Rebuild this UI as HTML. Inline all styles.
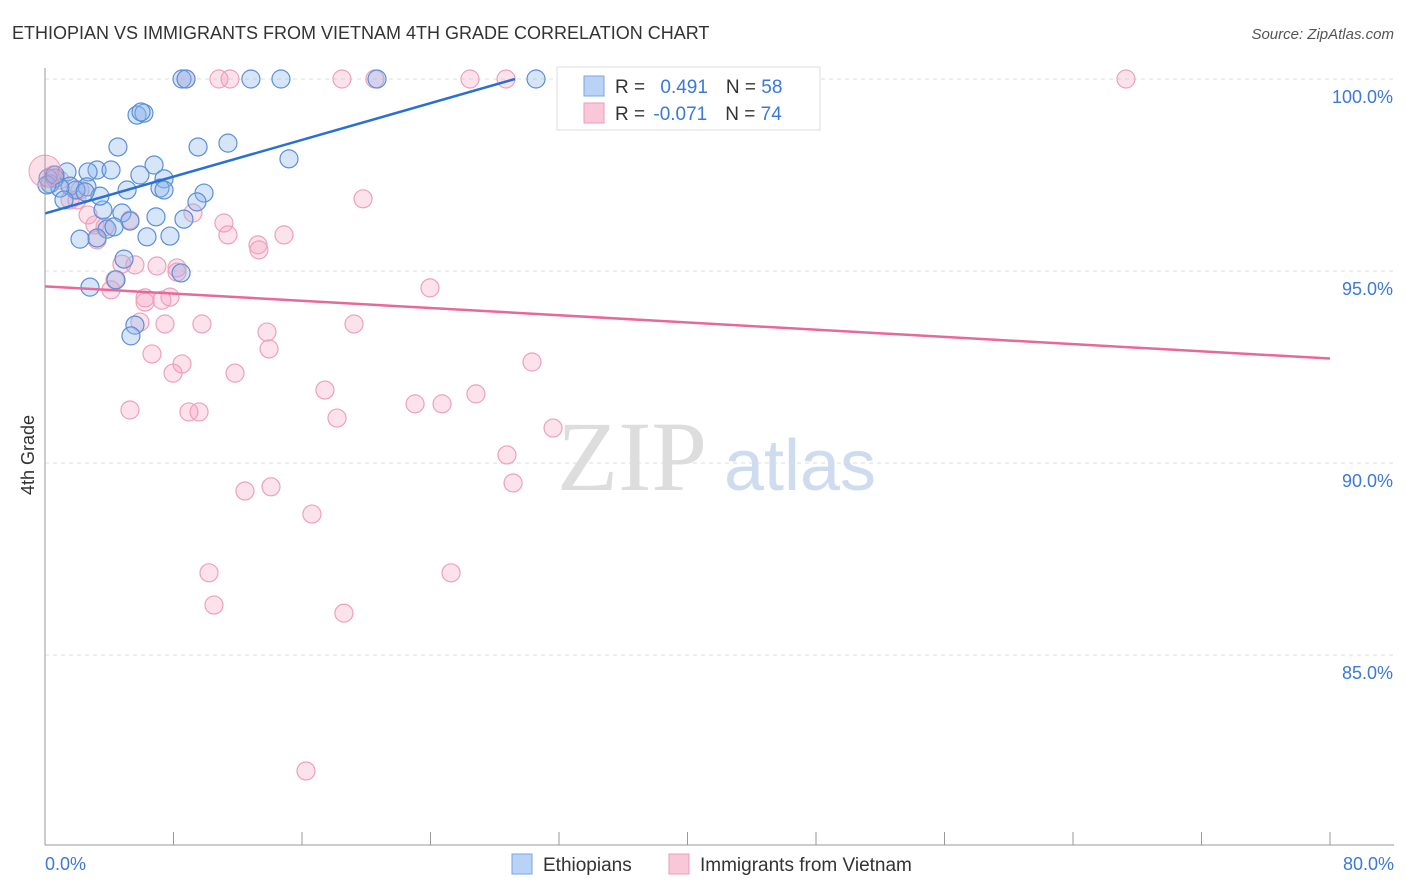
<!DOCTYPE html>
<html><head><meta charset="utf-8"><style>
body{margin:0;background:#fff;font-family:"Liberation Sans",sans-serif}
svg{display:block}
</style></head><body>
<svg id="c" width="1406" height="892">
<text x="12" y="39" font-size="18" fill="#333">ETHIOPIAN VS IMMIGRANTS FROM VIETNAM 4TH GRADE CORRELATION CHART</text>
<text x="1394" y="39" font-size="15" fill="#555" font-style="italic" text-anchor="end">Source: ZipAtlas.com</text>
<text x="34" y="455" font-size="18" fill="#333" transform="rotate(-90 34 455)" text-anchor="middle">4th Grade</text>
<g><text x="632" y="490" font-size="100" fill="#ddd" font-family="Liberation Serif" text-anchor="middle">ZIP</text><text x="800" y="490" font-size="72" fill="#cfdcf0" text-anchor="middle">atlas</text></g>
<g id="grid"></g><g id="pts"></g><g id="lines"></g>
<line x1="45" y1="68" x2="45" y2="845" stroke="#999"/>
<line x1="45" y1="845" x2="1394" y2="845" stroke="#999"/>
<text x="45" y="870" font-size="18" fill="#3b78d8">0.0%</text>
<text x="1394" y="870" font-size="18" fill="#3b78d8" text-anchor="end">80.0%</text>
<g>
<rect x="557" y="67" width="263" height="63" fill="#fff" stroke="#ddd"/>
<rect x="584" y="76" width="20" height="20" fill="#b8d3f5" stroke="#7aa6e6"/>
<rect x="584" y="103" width="20" height="20" fill="#f8c8d8" stroke="#ee9bb8"/>
<text x="615" y="93" font-size="19" fill="#333">R = <tspan fill="#3b78d8" dx="10">0.491</tspan><tspan dx="18" fill="#333">N = </tspan><tspan fill="#3b78d8">58</tspan></text>
<text x="615" y="120" font-size="19" fill="#333">R = <tspan fill="#3b78d8" dx="3">-0.071</tspan><tspan dx="18" fill="#333">N = </tspan><tspan fill="#3b78d8">74</tspan></text>
</g>
<g>
<rect x="512" y="854" width="20" height="20" fill="#b8d3f5" stroke="#7aa6e6"/>
<text x="543" y="871" font-size="19" fill="#333">Ethiopians</text>
<rect x="669" y="854" width="20" height="20" fill="#f8c8d8" stroke="#ee9bb8"/>
<text x="700" y="871" font-size="19" fill="#333">Immigrants from Vietnam</text>
</g>
</svg>
<script>
const yTicks=[100,95,90,85];
const xTicks=[0,8,16,24,32,40,48,56,64,72,80];
const bluePx=[[182,79],[186,79],[251,79],[281,79],[377,79],[536,79],[575,79],[137,115],[144,113],[141,112],[118,147],[198,147],[228,143],[289,159],[154,165],[97,170],[111,170],[67,172],[88,172],[55,178],[50,184],[48,178],[140,175],[164,179],[160,188],[164,190],[127,190],[204,193],[87,187],[70,186],[76,190],[197,202],[103,210],[122,213],[156,217],[184,219],[130,221],[107,229],[114,227],[97,238],[80,239],[147,237],[170,236],[124,259],[181,273],[116,280],[90,287],[135,325],[131,336],[100,196],[60,188],[47,185],[55,175],[85,192],[64,200]];
const pinkPx=[[186,79],[219,79],[230,79],[342,79],[375,79],[470,79],[506,79],[737,79],[1126,79],[363,199],[53,175],[60,180],[70,200],[77,200],[80,190],[88,215],[95,225],[97,240],[105,227],[130,220],[193,213],[224,223],[228,235],[258,245],[259,250],[284,235],[122,264],[135,265],[157,266],[177,268],[177,272],[115,280],[111,290],[145,298],[145,302],[162,300],[170,297],[430,288],[140,322],[165,324],[202,324],[354,324],[267,332],[269,349],[152,354],[182,364],[173,373],[235,373],[532,362],[325,390],[476,394],[130,410],[189,412],[199,412],[337,418],[415,404],[442,404],[553,428],[507,455],[513,483],[245,491],[271,487],[312,514],[209,573],[451,573],[214,605],[344,613],[306,771]];
const blueX=bluePx.map(p=>+((p[0]-45)*80/1285).toFixed(2)), blueY=bluePx.map(p=>+(100-(p[1]-79)/38.4).toFixed(2));
const pinkX=pinkPx.map(p=>+((p[0]-45)*80/1285).toFixed(2)), pinkY=pinkPx.map(p=>+(100-(p[1]-79)/38.4).toFixed(2));
const blueLine=[[0,96.5],[29.26,100]], pinkLine=[[0,94.6],[80,92.72]];
const sx=v=>45+v*1285/80, sy=v=>79+(100-v)*38.4;
const NS='http://www.w3.org/2000/svg';
function mk(t,a,parent){const e=document.createElementNS(NS,t);for(const k in a)e.setAttribute(k,a[k]);parent.appendChild(e);return e;}
const g=document.getElementById('grid');
yTicks.forEach(v=>{
 const l=mk('line',{x1:45,x2:1394,y1:sy(v),y2:sy(v),stroke:'#ddd','stroke-dasharray':'4,4'},g);
 
 
 const t=mk('text',{x:1393,y:sy(v)+24,'font-size':18,fill:'#3b78d8','text-anchor':'end'},g);
 t.textContent=v.toFixed(1)+'%';
 
 
});
xTicks.forEach(v=>{
 const l=mk('line',{x1:sx(v),x2:sx(v),y1:832,y2:845,stroke:'#999'},g);
 
 
});
const pg=document.getElementById('pts');
pinkX.forEach((x,i)=>{
 const c=mk('circle',{cx:sx(x),cy:sy(pinkY[i]),r:9,fill:'rgba(244,160,190,0.3)',stroke:'#eea0bc','stroke-width':1.2},pg);
 
 
});
blueX.forEach((x,i)=>{
 const c=mk('circle',{cx:sx(x),cy:sy(blueY[i]),r:9,fill:'rgba(140,180,235,0.35)',stroke:'#5a8fd8','stroke-width':1.2},pg);
 
 
});
const big=mk('circle',{cx:sx(0),cy:sy(97.6),r:16,fill:'rgba(244,160,190,0.35)',stroke:'#eea0bc'},pg);


const lg=document.getElementById('lines');
const bl=mk('line',{x1:sx(blueLine[0][0]),y1:sy(blueLine[0][1]),x2:sx(blueLine[1][0]),y2:sy(blueLine[1][1]),stroke:'#2a6fd6','stroke-width':2.5},lg);


const pl=mk('line',{x1:sx(pinkLine[0][0]),y1:sy(pinkLine[0][1]),x2:sx(pinkLine[1][0]),y2:sy(pinkLine[1][1]),stroke:'#e8689a','stroke-width':2.5},lg);


</script>
</body></html>
